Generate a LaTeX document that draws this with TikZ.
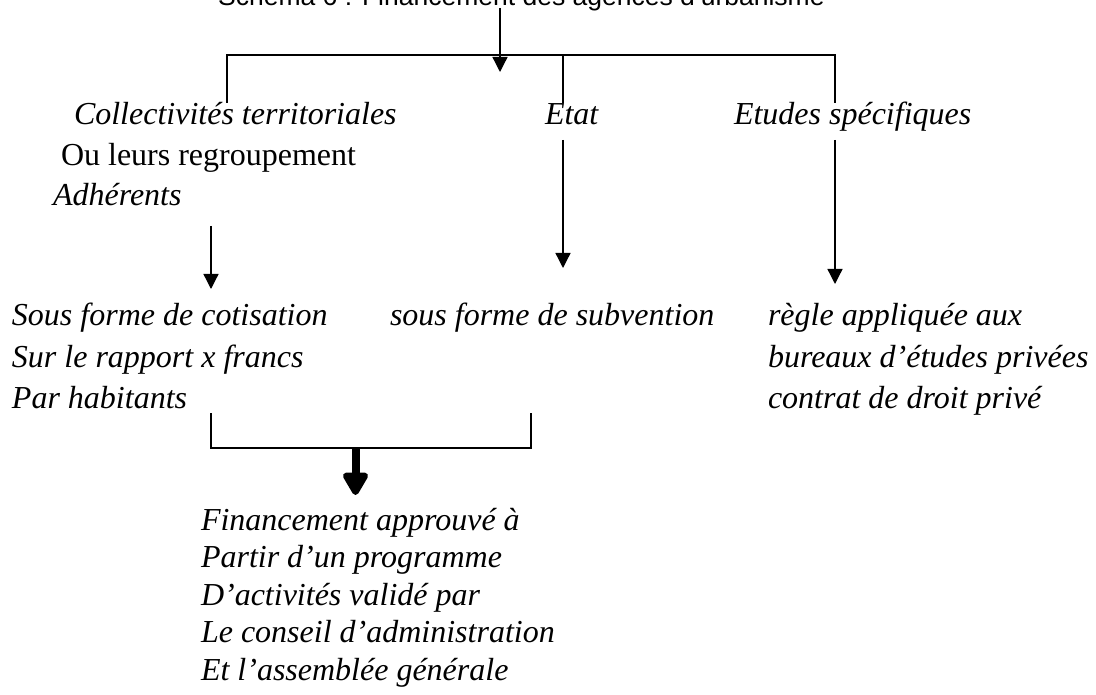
\documentclass[tikz,border=0pt]{standalone}
\usepackage{fontspec}
\setmainfont{Liberation Serif}
\newfontfamily\titlefont{Liberation Sans}
\usetikzlibrary{arrows.meta}
\begin{document}
\begin{tikzpicture}[x=1pt,y=-1pt,
  txt/.style={anchor=base west,inner sep=0pt,outer sep=0pt,font=\fontsize{32}{38}\selectfont\itshape},
  utxt/.style={anchor=base west,inner sep=0pt,outer sep=0pt,font=\fontsize{32}{38}\selectfont\upshape},
  ln/.style={line width=1.3pt},
  brk/.style={line width=1.8pt},
  arr/.style={ln,-{Triangle[width=15pt,length=15pt]}},
  bigarr/.style={line width=8pt,-{Triangle[width=28pt,length=26pt,round]}}]
\clip (0,0) rectangle (1096,695);
% title
\node[anchor=base west,inner sep=0pt,font=\titlefont\fontsize{26.5}{30}\selectfont] (title) at (218,6) {Schéma 6 : Financement des agences d’urbanisme};
% first level texts
\node[txt]  (coll)   at (74,125)  {Collectivités territoriales};
\node[utxt] (ou)     at (61,166)  {Ou leurs regroupement};
\node[txt]  (adh)    at (53,206)  {Adhérents};
\node[txt]  (etat)   at (545,125) {Etat};
\node[txt]  (etudes) at (734,125) {Etudes spécifiques};
% second level texts
\node[txt] (cot)   at (12,326)  {Sous forme de cotisation};
\node[txt] (rap)   at (12,367)  {Sur le rapport x francs};
\node[txt] (hab)   at (12,408)  {Par habitants};
\node[txt] (subv)  at (390,326) {sous forme de subvention};
\node[txt] (regle) at (768,326) {règle appliquée aux};
\node[txt] (bur)   at (768,367) {bureaux d’études privées};
\node[txt] (contr) at (768,408) {contrat de droit privé};
% bottom block
\node[txt] (fin1) at (201,530) {Financement approuvé à};
\node[txt] (fin2) at (201,567) {Partir d’un programme};
\node[txt] (fin3) at (201,605) {D’activités validé par};
\node[txt] (fin4) at (201,642) {Le conseil d’administration};
\node[txt] (fin5) at (201,680) {Et l’assemblée générale};
% coordinates
\coordinate (tA) at (500,72);
\coordinate (hL) at (227,55);
\coordinate (hM) at (563,55);
\coordinate (hR) at (835,55);
\coordinate (eL) at (227,103);
\coordinate (eM) at (563,103);
\coordinate (eR) at (835,103);
\coordinate (aLs) at (211,226);
\coordinate (aLe) at (211,289);
\coordinate (aMs) at (563,140);
\coordinate (aMe) at (563,268);
\coordinate (aRs) at (835,140);
\coordinate (aRe) at (835,284);
\coordinate (bL) at (211,413);
\coordinate (bR) at (531,413);
\coordinate (bLd) at (211,448);
\coordinate (bRd) at (531,448);
\coordinate (bA) at (355.5,448);
\coordinate (bT) at (355.5,495);
% connectors
\draw[arr] ([yshift=-2pt]title.base -| tA) -- (tA);
\draw[ln] (eL) -- (hL) -- (hR) -- (eR);
\draw[ln] (hM) -- (eM);
\draw[arr] (aLs) -- (aLe);
\draw[arr] (aMs) -- (aMe);
\draw[arr] (aRs) -- (aRe);
\draw[brk] (bL) -- (bLd) -- (bRd) -- (bR);
\draw[bigarr] (bA) -- (bT);
\end{tikzpicture}
\end{document}
